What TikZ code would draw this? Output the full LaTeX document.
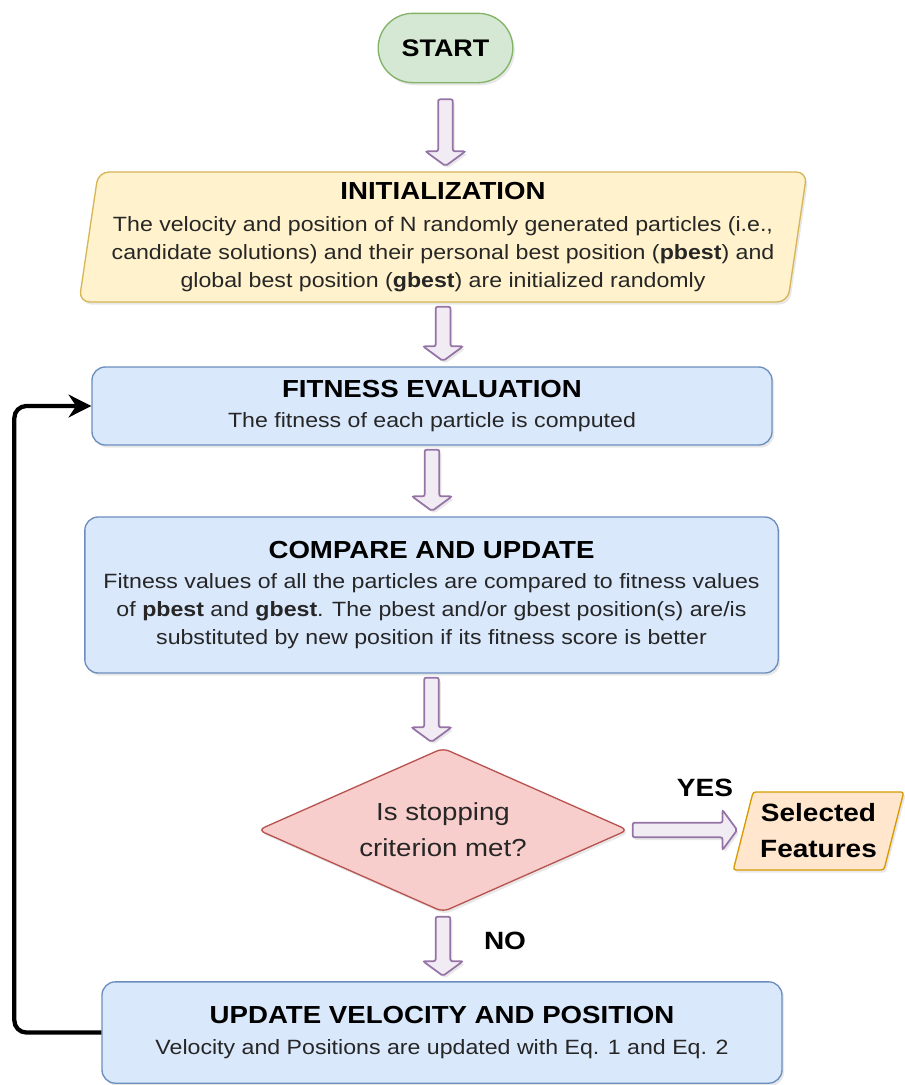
\documentclass[tikz,border=0pt]{standalone}
\usepackage{fontspec}
\setmainfont[FakeStretch=1.12]{Liberation Sans}
\usepackage{xcolor}
\usepackage{tikz}
\usetikzlibrary{positioning, arrows.meta, calc, shapes.geometric, shadows}
\definecolor{startfill}{HTML}{D5E8D4}
\definecolor{startedge}{HTML}{82B366}
\definecolor{initfill}{HTML}{FFF2CC}
\definecolor{initedge}{HTML}{D6B656}
\definecolor{stepfill}{HTML}{DAE8FC}
\definecolor{stepedge}{HTML}{6C8EBF}
\definecolor{testfill}{HTML}{F8CECC}
\definecolor{testedge}{HTML}{B85450}
\definecolor{outfill}{HTML}{FFE6CC}
\definecolor{outedge}{HTML}{D79B00}
\definecolor{arrowfill}{HTML}{F1EBF4}
\definecolor{arrowedge}{HTML}{9673A6}
\definecolor{bodytext}{HTML}{262626}

\newcommand{\titlesize}{\fontsize{18.5}{21}\selectfont\bfseries\color{black}}
\newcommand{\bodysize}{\fontsize{15.5}{21}\selectfont}

\tikzset{
  softshade/.style={drop shadow={opacity=0.18, shadow xshift=1.5pt, shadow yshift=-2pt}},
  startbox/.style={rectangle, rounded corners=26pt, fill=startfill, draw=startedge,
    line width=1pt, softshade, font=\fontsize{18}{21}\selectfont\bfseries},
  initbox/.style={trapezium, trapezium left angle=81, trapezium right angle=99,
    trapezium stretches=true, rounded corners=8pt, fill=initfill, draw=initedge,
    line width=1pt, softshade, align=center, text=bodytext, font=\bodysize},
  procbox/.style={rectangle, rounded corners=10pt, fill=stepfill, draw=stepedge,
    line width=1pt, softshade, align=center, text=bodytext, font=\bodysize},
  testbox/.style={diamond, aspect=2.25, inner sep=0pt, rounded corners=5pt, fill=testfill,
    draw=testedge, line width=1pt, softshade, align=center, text=bodytext,
    font=\fontsize{18.5}{27}\selectfont},
  outbox/.style={trapezium, trapezium left angle=72, trapezium right angle=108,
    trapezium stretches=true, rounded corners=2pt, fill=outfill, draw=outedge,
    line width=1pt, softshade, align=center, inner sep=0pt,
    font=\fontsize{18.75}{27}\selectfont\bfseries},
  answer/.style={font=\fontsize{18.75}{21}\selectfont\bfseries},
  bigarrow/.style={fill=arrowfill, draw=arrowedge, line width=1.3pt,
    rounded corners=1.5pt, softshade},
  loopline/.style={line width=3.2pt, rounded corners=9pt,
    -{Stealth[length=17pt, width=17pt, inset=5.5pt]}}
}

% hollow block arrow between two points
\newcommand{\fatarrow}[3][3pt]{%
  \coordinate (faE) at (#3);
  \coordinate (faA) at ($(#2)!#1!(faE)$);
  \coordinate (faB) at ($(faE)!4pt!(#2)$);
  \coordinate (faC) at ($(faB)!11pt!(faA)$);
  \draw[bigarrow] ($(faA)!5.5pt!90:(faB)$) -- ($(faC)!5.5pt!90:(faB)$)
    -- ($(faC)!15pt!90:(faB)$) -- (faB) -- ($(faC)!15pt!-90:(faB)$)
    -- ($(faC)!5.5pt!-90:(faB)$) -- ($(faA)!5.5pt!-90:(faB)$) -- cycle;
}

\begin{document}
\begin{tikzpicture}[x=0.75pt, y=-0.75pt]
  \useasboundingbox (0,0) rectangle (905,1085);

  \node[startbox, minimum width=101pt, minimum height=52pt] (start) at (445.5,48) {START};

  \node[initbox, minimum width=547pt, minimum height=97.5pt] (init) at (443,237) {%
    {\titlesize INITIALIZATION}\\[3pt]
    The velocity and position of N randomly generated particles (i.e.,\\
    candidate solutions) and their personal best position (\textbf{pbest}) and\\
    global best position (\textbf{gbest}) are initialized randomly};

  \node[procbox, minimum width=510pt, minimum height=58.5pt] (fit) at (432,406) {%
    {\titlesize FITNESS EVALUATION}\\[2pt]
    The fitness of each particle is computed};

  \node[procbox, minimum width=520pt, minimum height=117pt] (cmp) at (431.5,595) {%
    {\titlesize COMPARE AND UPDATE}\\[2pt]
    Fitness values of all the particles are compared to fitness values\\
    of \textbf{pbest} and \textbf{gbest}. The pbest and/or gbest position(s) are/is\\
    substituted by new position if its fitness score is better};

  \node[testbox, minimum width=277.5pt, minimum height=123pt] (test) at (443,830) {%
    Is stopping\\criterion met?};

  \node[outbox, minimum width=128pt, minimum height=58.5pt] (sel) at (818.5,831) {%
    Selected\\Features};

  \node[procbox, minimum width=510pt, minimum height=76pt] (upd) at (442,1032.5) {%
    {\titlesize UPDATE VELOCITY AND POSITION}\\[2pt]
    Velocity and Positions are updated with Eq. 1 and Eq. 2};

  \node[answer] (yes) at (705,788) {YES};
  \node[answer] (no) at (505,941) {NO};

  % flow
  \fatarrow[12pt]{start.south}{start.south |- init.north}
  \fatarrow{init.south}{init.south |- fit.north}
  \fatarrow{fit.south}{fit.south |- cmp.north}
  \fatarrow{cmp.south}{cmp.south |- test.north}
  \fatarrow{test.east}{test.east -| sel.west}
  \fatarrow{test.south}{test.south |- upd.north}

  % back to fitness
  \draw[loopline] (upd.west) -- ++(-87,0) |- (fit.west);
\end{tikzpicture}
\end{document}
